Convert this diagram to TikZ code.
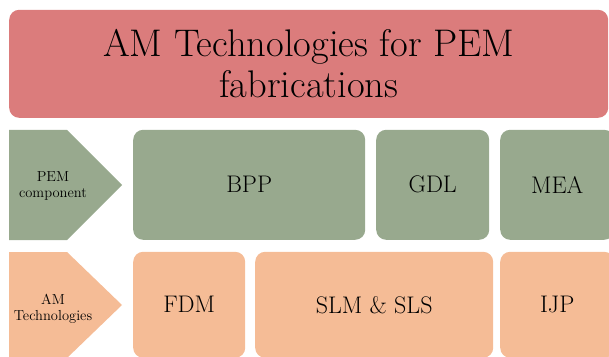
\documentclass[tikz,border=0pt]{standalone}
\definecolor{titlered}{HTML}{DB7C7C}
\definecolor{compgreen}{HTML}{98A98E}
\definecolor{techorange}{HTML}{F5BC96}
\begin{document}
\begin{tikzpicture}[x=1pt,y=1pt,
  box/.style={rounded corners=10pt, inner sep=0pt, anchor=south west},
  gbox/.style={box, fill=compgreen, minimum height=110pt, font=\rmfamily\fontsize{24}{28}\selectfont},
  obox/.style={box, fill=techorange, minimum height=106pt, font=\rmfamily\fontsize{24}{28}\selectfont},
  clabel/.style={align=center, font=\rmfamily\fontsize{14.5}{15.5}\selectfont, inner sep=0pt}]
\useasboundingbox (0,0) rectangle (609,356);
% title
\node[box, fill=titlered, minimum width=599pt, minimum height=108pt, align=center,
  font=\rmfamily\fontsize{38.5}{41}\selectfont] (title) at (9,238) {AM Technologies for PEM\\fabrications};
% chevrons
\fill[compgreen] (9,226) -- (67,226) -- (122,171) -- (67,116) -- (9,116) -- cycle;
\node[clabel] (pemc) at (53,170) {PEM\\component};
\fill[techorange] (9,104) -- (67,104) -- (122,51) -- (67,-2) -- (9,-2) -- cycle;
\node[clabel] (amt) at (53,47) {AM\\Technologies};
% green row
\node[gbox, minimum width=232pt] (bpp) at (133,116) {BPP};
\node[gbox, minimum width=113pt] (gdl) at (376,116) {GDL};
\node[gbox, minimum width=114pt] (mea) at (500,116) {MEA};
% orange row
\node[obox, minimum width=112pt] (fdm) at (133,-2) {FDM};
\node[obox, minimum width=238pt] (slm) at (255,-2) {SLM \& SLS};
\node[obox, minimum width=114pt] (ijp) at (500,-2) {IJP};
\end{tikzpicture}
\end{document}
